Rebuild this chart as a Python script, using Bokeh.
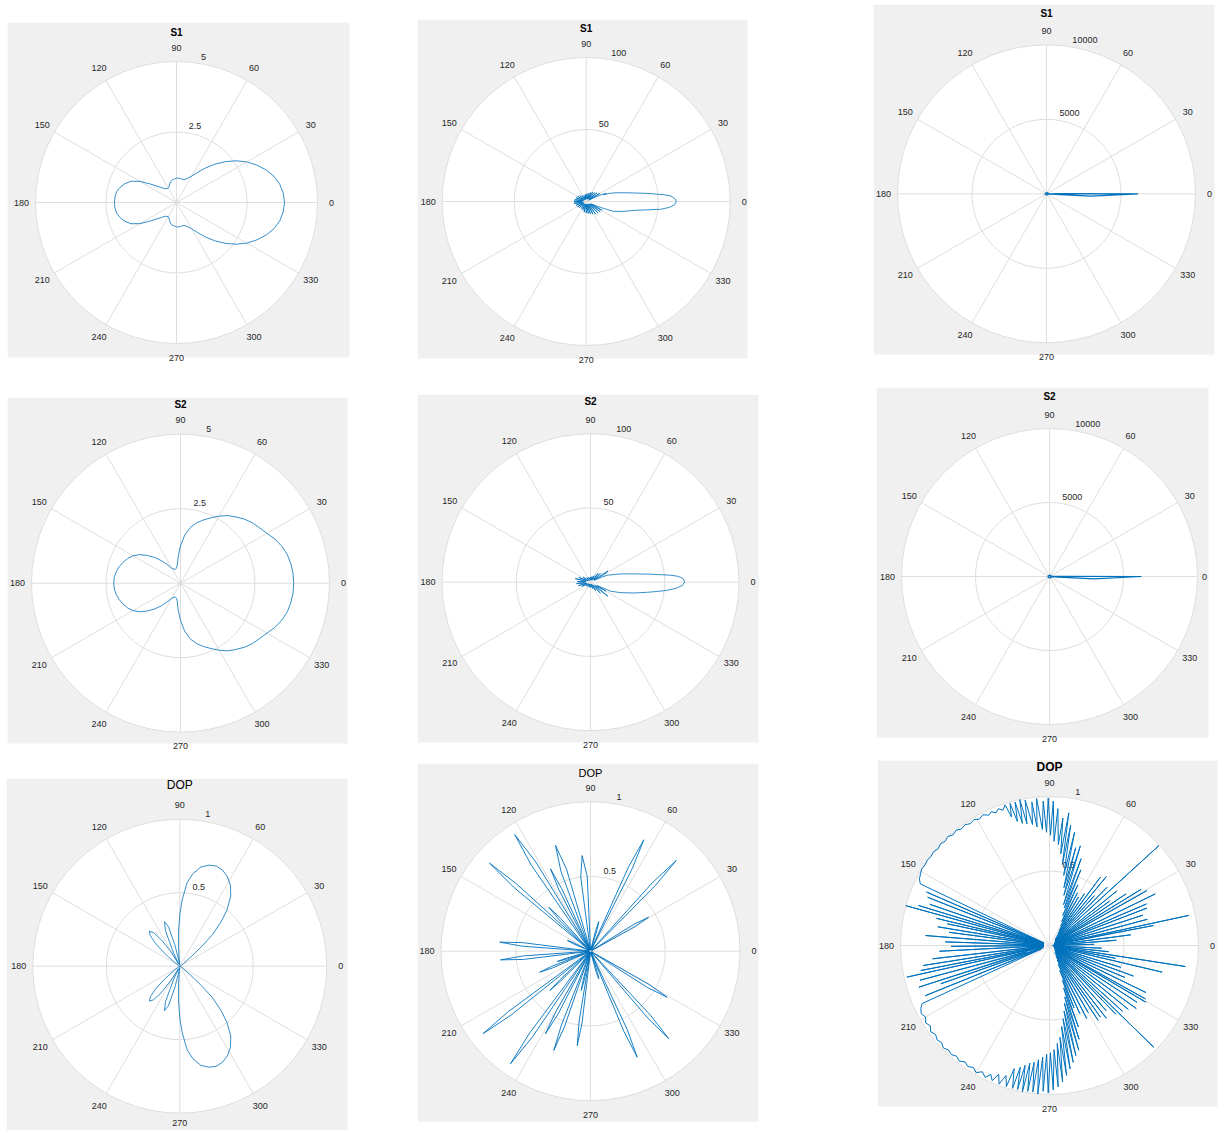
import numpy as np
from bokeh.plotting import figure
from bokeh.layouts import row, column
from bokeh.models import Range1d
from bokeh.embed import file_html
from bokeh.resources import INLINE
from bokeh.core.properties import value

# ---------------- data (angles in degrees, radii in data units) ----------------
ANGLE_TICKS = [0, 30, 60, 90, 120, 150, 180, 210, 240, 270, 300, 330]
ANGLE_LABELS = ["0", "30", "60", "90", "120", "150", "180", "210", "240", "270", "300", "330"]

theta_5deg = list(range(0, 361, 5))

# S1, left column (rmax 5)
s1_left_r = [3.83, 3.80, 3.72, 3.58, 3.38, 3.14, 2.88, 2.58, 2.25, 1.92,
             1.60, 1.30, 1.08, 0.95, 0.87, 0.85, 0.86, 0.87, 0.86, 0.84,
             0.82, 0.78, 0.70, 0.62, 0.59, 0.60, 0.64, 0.75, 0.90, 1.15,
             1.50, 1.78, 1.95, 2.07, 2.16, 2.19, 2.20,
             2.19, 2.16, 2.07, 1.95, 1.78, 1.50, 1.15, 0.90, 0.75, 0.64,
             0.60, 0.59, 0.62, 0.70, 0.78, 0.82, 0.84, 0.86, 0.87, 0.86,
             0.85, 0.87, 0.95, 1.08, 1.30, 1.60, 1.92, 2.25, 2.58, 2.88,
             3.14, 3.38, 3.58, 3.72, 3.80, 3.83]

# S2, left column (rmax 5)
s2_left_r = [3.80, 3.79, 3.76, 3.71, 3.62, 3.50, 3.35, 3.24, 3.15, 3.04,
             2.90, 2.77, 2.60, 2.42, 2.26, 2.10, 1.90, 1.62, 1.25, 0.90,
             0.62, 0.52, 0.50, 0.52, 0.58, 0.75, 0.98, 1.22, 1.45, 1.67,
             1.84, 1.96, 2.05, 2.13, 2.19, 2.23, 2.24,
             2.23, 2.19, 2.13, 2.05, 1.96, 1.84, 1.67, 1.45, 1.22, 0.98,
             0.75, 0.58, 0.52, 0.50, 0.52, 0.62, 0.90, 1.25, 1.62, 1.90,
             2.10, 2.26, 2.42, 2.60, 2.77, 2.90, 3.04, 3.15, 3.24, 3.35,
             3.50, 3.62, 3.71, 3.76, 3.79, 3.80]

# DOP, left column (rmax 1)
dop_left_theta = [0, 20, 36, 40, 42, 44, 47, 50, 54, 58,
                  62, 66, 70, 74, 78, 82, 85, 88, 90, 92,
                  94, 96, 98, 100, 103, 106, 109, 112, 115, 117,
                  119, 122, 125, 128, 131, 134, 137, 140, 143, 146,
                  160, 180,
                  200, 214, 217, 220, 223, 226, 229, 232, 235, 238,
                  241, 243, 245, 248, 251, 254, 257, 260, 262, 264,
                  266, 268, 270, 272, 275, 278, 282, 286, 290, 294,
                  298, 302, 306, 310, 313, 316, 318, 320, 324, 340,
                  360]
dop_left_r = [0.0, 0.005, 0.03, 0.10, 0.20, 0.31, 0.41, 0.50, 0.59, 0.65,
              0.69, 0.715, 0.725, 0.715, 0.69, 0.635, 0.57, 0.45, 0.35, 0.24,
              0.12, 0.03, 0.01, 0.04, 0.15, 0.28, 0.32, 0.26, 0.10, 0.02,
              0.03, 0.12, 0.22, 0.29, 0.315, 0.29, 0.22, 0.13, 0.05, 0.01,
              0.0, 0.0,
              0.0, 0.01, 0.05, 0.13, 0.22, 0.29, 0.315, 0.29, 0.22, 0.12,
              0.03, 0.02, 0.10, 0.26, 0.32, 0.28, 0.15, 0.04, 0.01, 0.03,
              0.12, 0.24, 0.35, 0.45, 0.57, 0.635, 0.69, 0.715, 0.725, 0.715,
              0.69, 0.65, 0.59, 0.50, 0.41, 0.31, 0.20, 0.10, 0.03, 0.005,
              0.0]

# S1, middle column (rmax 100)
s1_mid_theta = [0, 1.5, 3, 4, 5, 6, 7, 8, 10, 12,
                14, 16, 18, 20, 21, 22, 24, 26, 28, 31,
                34, 39, 43, 47, 51, 55, 59, 64, 69, 74,
                79, 85, 91, 97, 103, 110, 117, 124, 130, 137,
                143, 149, 155, 160, 165, 170, 174, 178, 180, 182,
                186, 190, 195, 200, 205, 211, 216, 222, 228, 235,
                241, 248, 253, 259, 264, 270, 275, 280, 284, 289,
                293, 298, 302, 307, 311, 316, 320, 324, 328, 331,
                334, 336, 338, 339, 340, 342, 344, 346, 348, 350,
                352, 354, 356, 358, 360]
s1_mid_r = [62.5, 62, 60, 58, 54, 49, 45, 41, 34, 29,
            25, 22, 19, 16, 13, 15, 12, 6, 2, 11,
            2.5, 9.5, 2.5, 8.5, 2, 8, 2, 7, 2, 6,
            2, 5.5, 2, 5, 1.5, 4.5, 1.5, 5, 1.5, 6,
            2, 7, 2, 7.5, 2, 8, 2.5, 8.5, 3, 8.5,
            3, 8.4, 2.5, 7.5, 2, 7, 2, 6.4, 2, 6,
            2, 6.5, 2, 7.6, 2, 8, 2, 8.5, 2, 9,
            2, 10, 2.5, 11, 2.5, 11.5, 3, 12, 3, 12.5,
            4, 6, 12, 15, 20, 22, 25, 28, 31, 35,
            42, 52, 58, 61.5, 62.5]

# S2, middle column (rmax 100)
s2_mid_theta = [0, 1.5, 3, 4, 5, 6, 7, 8, 10, 12,
                14, 16, 18, 20, 22, 24, 27, 30, 33, 36,
                41, 44, 50, 54, 62, 66, 75, 80, 90, 100,
                110, 118, 128, 135, 145, 150, 158, 162, 167, 172,
                177, 181, 186, 191, 196, 200, 206, 211, 220, 227,
                237, 245, 255, 263, 272, 280, 288, 294, 301, 306,
                312, 316, 321, 325, 330, 333, 336, 338, 340, 342,
                344, 346, 348, 350, 352, 354, 356, 358, 360]
s2_mid_r = [63.3, 63, 61, 58.5, 54, 48, 43, 39, 32, 27,
            23, 20, 17, 14, 13, 9, 3, 12, 14, 3,
            9, 2.5, 8, 2, 5, 1.5, 4, 1.5, 3.5, 1.5,
            3.5, 1.5, 4, 1.5, 6, 2, 8.5, 3, 10.5, 3,
            9, 4, 9.5, 3, 8.5, 2.5, 6.5, 2, 4, 1.5,
            3.5, 1.5, 3.5, 1.5, 3.5, 1.5, 4.5, 1.5, 6.5, 2,
            10, 3, 15, 4, 12, 5, 15.2, 17, 20, 23,
            26, 30, 34, 39, 45, 52, 58, 62, 63.3]

# DOP, middle column (rmax 1)
dop_mid_theta = [0,
                 27.3, 28.8, 30.3, 31.8, 33.3,
                 44.1, 45.4, 46.6, 47.9, 49.1,
                 61.9, 63.2, 64.4, 65.7, 66.9,
                 71.4, 72.9, 74.4, 75.9, 77.4,
                 90.0, 92.5, 95.0, 97.5, 100.0,
                 104.3, 106.3, 108.3, 110.3, 112.3,
                 113.4, 114.7, 115.9, 117.2, 118.4,
                 120.0, 121.5, 123.0, 124.5, 126.0,
                 131.0, 132.3, 133.5, 134.8, 136.0,
                 136.4, 137.7, 138.9, 140.2, 141.4,
                 152.0, 153.5, 155.0, 156.5, 158.0,
                 171.3, 172.8, 174.3, 175.8, 177.3,
                 182.5, 184.0, 185.5, 187.0, 188.5,
                 195.2, 196.2, 197.2, 198.2, 199.2,
                 200.0, 201.3, 202.5, 203.8, 205.0,
                 215.0, 216.3, 217.5, 218.8, 220.0,
                 222.0, 223.0, 224.0, 225.0, 226.0,
                 232.1, 233.4, 234.6, 235.9, 237.1,
                 238.9, 240.2, 241.4, 242.7, 243.9,
                 247.2, 248.5, 249.7, 251.0, 252.2,
                 254.7, 255.7, 256.7, 257.7, 258.7,
                 259.5, 260.8, 262.0, 263.3, 264.5,
                 283.7, 285.2, 286.7, 288.2, 289.7,
                 291.3, 292.6, 293.8, 295.1, 296.3,
                 309.3, 310.6, 311.8, 313.1, 314.3,
                 326.0, 327.5, 329.0, 330.5, 332.0,
                 360]
dop_mid_r = [0.01,
             0.01, 0.34, 0.45, 0.34, 0.01,
             0.01, 0.62, 0.835, 0.62, 0.01,
             0.01, 0.62, 0.826, 0.62, 0.01,
             0.01, 0.15, 0.206, 0.15, 0.01,
             0.01, 0.50, 0.642, 0.50, 0.01,
             0.01, 0.57, 0.745, 0.57, 0.01,
             0.01, 0.46, 0.612, 0.46, 0.01,
             0.01, 0.70, 0.93, 0.70, 0.01,
             0.01, 0.30, 0.405, 0.30, 0.01,
             0.01, 0.67, 0.896, 0.67, 0.01,
             0.01, 0.13, 0.17, 0.13, 0.01,
             0.01, 0.46, 0.61, 0.46, 0.01,
             0.01, 0.45, 0.605, 0.45, 0.01,
             0.01, 0.17, 0.233, 0.17, 0.01,
             0.01, 0.28, 0.367, 0.28, 0.01,
             0.01, 0.68, 0.906, 0.68, 0.01,
             0.01, 0.28, 0.377, 0.28, 0.01,
             0.01, 0.69, 0.924, 0.69, 0.01,
             0.01, 0.47, 0.63, 0.47, 0.01,
             0.01, 0.53, 0.708, 0.53, 0.01,
             0.01, 0.20, 0.27, 0.20, 0.01,
             0.01, 0.48, 0.637, 0.48, 0.01,
             0.01, 0.15, 0.193, 0.15, 0.01,
             0.01, 0.58, 0.775, 0.58, 0.01,
             0.01, 0.59, 0.786, 0.59, 0.01,
             0.01, 0.45, 0.598, 0.45, 0.01,
             0.01]

# S1 / S2, right column (rmax 10000)
s_right_theta = [0, 0.3, 0.6, 2, 15, 30, 45, 60, 80, 100,
                 120, 140, 160, 180, 200, 220, 240, 260, 280, 300,
                 320, 340, 350, 355, 356, 357, 360]
s1_right_r = [6150, 1200, 200, 90, 150, 60, 120, 50, 100, 40,
              90, 50, 110, 60, 120, 50, 100, 40, 90, 60,
              130, 70, 160, 100, 600, 2960, 6150]
s2_right_r = [6220, 1250, 220, 100, 160, 70, 130, 60, 110, 50,
              100, 60, 120, 70, 130, 60, 110, 50, 100, 70,
              140, 80, 170, 110, 650, 3000, 6220]

# DOP, right column (rmax 1)
dop_right_theta = [0, 1.5, 3, 4.5, 6, 7.5, 9, 10.9, 11.5, 12.2,
                   13.5, 15, 16.5, 18, 19.5, 21, 22, 23.2, 24.5, 26,
                   27.5, 29.4, 30.2, 31.5, 32.5, 34, 35, 36.5, 37.5, 39,
                   40.5, 42.4, 43.5, 45.3, 46.5, 48, 49, 50.5, 51.5, 53.3,
                   54.5, 56, 57, 59, 60, 62, 63, 65, 66, 67.5,
                   68.5, 70, 71, 72.8, 74, 75, 76, 77.5, 78.5, 80,
                   81, 81.7, 83, 84, 85, 86.5, 87.5, 88.5, 89.5, 90.5,
                   91.5, 92.5, 93.5, 95, 96, 97, 98, 99.5, 100.5, 101.5,
                   102.5, 103.5, 104.5, 105.5, 106.5, 107.5, 109, 110.5, 112, 113.5,
                   115, 117, 119, 121, 123, 125, 127, 129, 131, 133,
                   135, 137, 139, 141, 143, 145, 147, 149, 151, 153,
                   154.5, 155.5, 156.5, 157.5, 158.4, 159.5, 161, 162, 163, 163.8,
                   164.5, 165.5, 166.5, 167.3, 168, 169, 170.5, 171.5, 172.5, 173.5,
                   175.4, 176.5, 178, 179, 180.5, 181.5, 183, 184, 186.5, 187.5,
                   189, 190, 191, 191.8, 192.5, 193.5, 195, 196, 197.7, 198.5,
                   199.4, 200.5, 202, 203, 204.5, 206, 208, 210, 212, 214,
                   216, 218, 220, 222, 224, 226, 228, 230, 232, 234,
                   236, 238, 240, 242, 244, 245.5, 247, 248.5, 250, 251.5,
                   253, 254, 255.5, 256.5, 257.5, 258.5, 259.5, 260.5, 261.5, 262.5,
                   263.5, 264.5, 265.5, 266.5, 267.5, 268.5, 269.5, 270.5, 271.5, 272.5,
                   273.5, 274.5, 275.5, 276.5, 277.5, 278.5, 279.5, 280.5, 281.5, 282.5,
                   283.5, 284.5, 285.6, 286.5, 287.5, 288.5, 289.5, 290.5, 291.5, 292.5,
                   294, 295, 297, 298, 300, 301, 303, 304, 305.4, 306.5,
                   308, 309, 311, 312, 314, 315, 315.7, 316.5, 318, 319,
                   321, 322, 324, 325, 327, 328, 329.5, 330.3, 330.9, 332,
                   334, 335, 337, 338, 340, 341, 343, 344, 346.7, 347.5,
                   349, 350, 351.2, 352.5, 354, 355, 357, 358, 360]
dop_right_r = [0.02, 0.30, 0.03, 0.45, 0.03, 0.55, 0.03, 0.71, 0.03, 0.957,
               0.03, 0.68, 0.03, 0.66, 0.04, 0.70, 0.04, 0.708, 0.04, 0.79,
               0.04, 0.75, 0.04, 0.72, 0.04, 0.62, 0.05, 0.50, 0.05, 0.58,
               0.05, 0.994, 0.05, 0.55, 0.06, 0.45, 0.06, 0.60, 0.08, 0.572,
               0.10, 0.42, 0.12, 0.38, 0.15, 0.40, 0.18, 0.45, 0.22, 0.55,
               0.27, 0.62, 0.29, 0.70, 0.35, 0.68, 0.40, 0.78, 0.48, 0.82,
               0.55, 0.90, 0.62, 0.86, 0.68, 0.92, 0.70, 0.97, 0.74, 0.99,
               0.76, 0.97, 0.78, 0.99, 0.80, 0.97, 0.82, 0.99, 0.83, 1.0,
               0.84, 0.99, 0.86, 0.99, 0.90, 0.99, 0.96, 0.98, 0.96, 0.98,
               0.965, 0.985, 0.97, 0.985, 0.975, 0.99, 0.98, 0.995, 0.985, 1.0,
               0.99, 1.0, 0.99, 1.0, 0.995, 1.0, 0.995, 1.0, 0.99, 0.98,
               0.96, 0.04, 0.90, 0.04, 0.88, 0.04, 0.85, 0.04, 0.92, 0.04,
               1.0, 0.04, 0.78, 0.04, 0.70, 0.04, 0.76, 0.04, 0.68, 0.04,
               0.835, 0.04, 0.70, 0.04, 0.66, 0.04, 0.74, 0.04, 0.79, 0.04,
               0.86, 0.04, 0.88, 0.04, 0.98, 0.04, 0.90, 0.16, 0.92, 0.05,
               0.775, 0.05, 0.90, 0.06, 0.94, 0.96, 0.975, 0.96, 0.98, 0.965,
               0.985, 0.97, 0.985, 0.975, 0.99, 0.975, 0.985, 0.97, 0.985, 0.965,
               0.98, 0.965, 0.985, 0.96, 0.985, 0.95, 0.985, 0.93, 0.99, 0.92,
               0.99, 0.86, 0.99, 0.84, 0.99, 0.82, 1.0, 0.80, 0.99, 0.79,
               0.99, 0.77, 1.0, 0.75, 0.98, 0.73, 0.99, 0.72, 0.97, 0.70,
               0.95, 0.66, 0.92, 0.62, 0.88, 0.55, 0.84, 0.50, 0.80, 0.45,
               0.76, 0.40, 0.73, 0.36, 0.66, 0.30, 0.58, 0.25, 0.45, 0.18,
               0.50, 0.14, 0.55, 0.11, 0.52, 0.09, 0.60, 0.08, 0.59, 0.07,
               0.62, 0.06, 0.58, 0.06, 0.64, 0.05, 0.978, 0.05, 0.66, 0.05,
               0.68, 0.05, 0.72, 0.04, 0.70, 0.04, 0.75, 0.04, 0.737, 0.04,
               0.72, 0.04, 0.55, 0.04, 0.60, 0.03, 0.50, 0.03, 0.777, 0.03,
               0.45, 0.03, 0.923, 0.03, 0.40, 0.03, 0.35, 0.03, 0.02]

# ---------------- styling / layout ----------------
FONT = "Liberation Sans"
BG = "#f0f0f0"
GRID = "#dedede"
TXT = "#262626"
LINE = "#0072BD"
PAD_BOTTOM = 9     # room below the grey box for the "270" label
PAD_RIGHT = 8      # room right of the grey box for the "0" label
PAGE_RIGHT = 1218
PAGE_BOTTOM = 1130

PANELS = [
    dict(title="S1", rmax=5, rt=[2.5, 5], rl=["2.5", "5"], th=theta_5deg, r=s1_left_r,
         box=(7, 22, 349, 357), c=(176, 202), R=141, tdy=170, ts="10px", tb="bold", lw=0.8,
         off0=14, off270=14),
    dict(title="S1", rmax=100, rt=[50, 100], rl=["50", "100"], th=s1_mid_theta, r=s1_mid_r,
         box=(417, 19, 747, 358), c=(585.7, 201), R=144, tdy=173, ts="10px", tb="bold", lw=0.8,
         off0=14, off270=14),
    dict(title="S1", rmax=10000, rt=[5000, 10000], rl=["5000", "10000"], th=s_right_theta, r=s1_right_r,
         box=(873, 4, 1214, 354), c=(1046, 193.3), R=149, tdy=180, ts="10px", tb="bold", lw=1.2,
         off0=14, off270=14),
    dict(title="S2", rmax=5, rt=[2.5, 5], rl=["2.5", "5"], th=theta_5deg, r=s2_left_r,
         box=(7, 397, 347, 743), c=(180, 582.7), R=149, tdy=179, ts="10px", tb="bold", lw=0.8,
         off0=14, off270=14),
    dict(title="S2", rmax=100, rt=[50, 100], rl=["50", "100"], th=s2_mid_theta, r=s2_mid_r,
         box=(417, 394, 758, 742), c=(590, 581.7), R=148.5, tdy=181, ts="10px", tb="bold", lw=0.8,
         off0=14, off270=14),
    dict(title="S2", rmax=10000, rt=[5000, 10000], rl=["5000", "10000"], th=s_right_theta, r=s2_right_r,
         box=(876, 387, 1208, 737), c=(1049, 576), R=148, tdy=180, ts="10px", tb="bold", lw=1.2,
         off0=7, off270=14),
    dict(title="DOP", rmax=1, rt=[0.5, 1], rl=["0.5", "1"], th=dop_left_theta, r=dop_left_r,
         box=(6, 778, 347, 1130), c=(179.3, 965.7), R=147, tdy=181, ts="12px", tb="normal", lw=0.8,
         off0=14, off270=10),
    dict(title="DOP", rmax=1, rt=[0.5, 1], rl=["0.5", "1"], th=dop_mid_theta, r=dop_mid_r,
         box=(417, 763, 758, 1121), c=(590, 950.7), R=149.5, tdy=178, ts="11px", tb="normal", lw=0.9,
         off0=14, off270=14),
    dict(title="DOP", rmax=1, rt=[0.5, 1], rl=["0.5", "1"], th=dop_right_theta, r=dop_right_r,
         box=(877, 760, 1217, 1106), c=(1049, 945), R=149, tdy=179, ts="12px", tb="bold", lw=1.0,
         off0=14, off270=14),
]


def make_panel(pn):
    x0, y0, x1, y1 = pn["box"]
    cx, cy = pn["c"]
    rmax = pn["rmax"]
    k = rmax / pn["R"]                      # data units per pixel
    left, top = round(x0), round(y0)
    right = min(round(x1) + PAD_RIGHT, PAGE_RIGHT)
    bottom = min(round(y1) + PAD_BOTTOM, PAGE_BOTTOM)
    w, h = right - left, bottom - top
    ccx, ccy = cx - left, cy - top
    p = figure(width=w, height=h,
               x_range=Range1d(-ccx * k, (w - ccx) * k),
               y_range=Range1d(-(h - ccy) * k, ccy * k),
               output_backend="svg", toolbar_location=None,
               x_axis_type=None, y_axis_type=None, min_border=0,
               background_fill_color="white", border_fill_color="white",
               outline_line_color=None)
    p.grid.visible = False

    # grey panel background
    p.quad(left=[(x0 - cx) * k], right=[(x1 - cx) * k],
           top=[(cy - y0) * k], bottom=[-(y1 - cy) * k],
           fill_color=BG, line_color=None)

    # polar area
    p.circle(x=[0], y=[0], radius=[rmax], fill_color="white", line_color=None)
    ang = np.deg2rad(ANGLE_TICKS)
    p.segment(x0=[0] * len(ang), y0=[0] * len(ang),
              x1=rmax * np.cos(ang), y1=rmax * np.sin(ang),
              line_color=GRID, line_width=1)
    p.circle(x=[0] * len(pn["rt"]), y=[0] * len(pn["rt"]), radius=pn["rt"],
             fill_color=None, line_color=GRID, line_width=1)

    # angle labels
    offs = np.array([14.0] * len(ANGLE_TICKS))
    offs[ANGLE_TICKS.index(0)] = pn["off0"]
    offs[ANGLE_TICKS.index(270)] = pn["off270"]
    lr = rmax + offs * k
    p.text(x=lr * np.cos(ang), y=lr * np.sin(ang), text=ANGLE_LABELS,
           text_align="center", text_baseline="middle",
           text_font=value(FONT), text_font_size="9px", text_color=TXT)

    # radial tick labels along 80 degrees
    a80 = np.deg2rad(80)
    rt = np.array(pn["rt"], dtype=float)
    p.text(x=rt * np.cos(a80), y=rt * np.sin(a80) + 4 * k, text=pn["rl"],
           text_align="left", text_baseline="bottom",
           text_font=value(FONT), text_font_size="9px", text_color=TXT)

    # title
    p.text(x=[0], y=[pn["tdy"] * k], text=[pn["title"]],
           text_align="center", text_baseline="middle",
           text_font=value(FONT), text_font_size=pn["ts"],
           text_font_style=pn["tb"], text_color="#000000")

    # data curve
    th = np.deg2rad(np.array(pn["th"], dtype=float))
    rr = np.array(pn["r"], dtype=float)
    p.line(rr * np.cos(th), rr * np.sin(th), line_color=LINE, line_width=pn["lw"])
    return p, left, top, w, h


built = [make_panel(pn) for pn in PANELS]

row_tops = [min(b[2] for b in built[3 * i:3 * i + 3]) for i in range(3)]
row_tops[0] = 0
last_bottom = max(b[2] + b[4] for b in built[6:9])
rows = []
for i in range(3):
    H = (row_tops[i + 1] - row_tops[i]) if i < 2 else (last_bottom - row_tops[i])
    figs = []
    prev_right = 0
    for (p, left, top, w, h) in built[3 * i:3 * i + 3]:
        mt = top - row_tops[i]
        mb = max(0, H - mt - h)
        ml = left - prev_right
        p.margin = (mt, 0, mb, ml)
        prev_right = left + w
        figs.append(p)
    rows.append(row(*figs, spacing=0))

layout = column(*rows, spacing=0)

open("out.html", "w").write(file_html(layout, INLINE))
